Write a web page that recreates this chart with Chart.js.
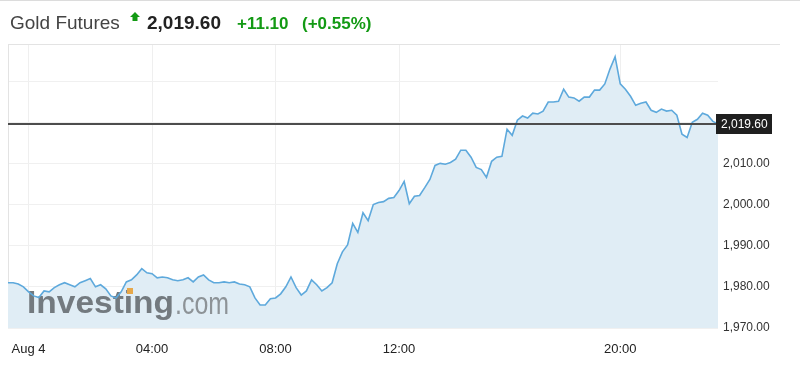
<!DOCTYPE html>
<html>
<head>
<meta charset="utf-8">
<script src="https://cdn.jsdelivr.net/npm/chart.js@4.4.1/dist/chart.umd.min.js"></script>
<style>
  html, body { margin: 0; padding: 0; background: #fff; }
  #wrap { position: relative; width: 800px; height: 365px; overflow: hidden; font-family: "Liberation Sans", Arial, sans-serif; }
  #c { position: absolute; left: 0; top: 0; }
  .hd { position: absolute; top: 13px; line-height: 19px; white-space: nowrap; }
  #topline { position: absolute; left: 0; top: 0; width: 800px; height: 1px; background: #dcdcdc; }
</style>
</head>
<body>
<div id="wrap">
  <canvas id="c" width="800" height="365"></canvas>
  <div id="topline"></div>
  <span class="hd" style="left:10px;font-size:19px;color:#444;">Gold Futures</span>
  <svg style="position:absolute;left:130px;top:12px;" width="10" height="11" viewBox="0 0 10 11">
    <polygon points="5,0 10,5 7.5,5 7.5,9 2.5,9 2.5,5 0,5" fill="#139a14"/>
  </svg>
  <span class="hd" style="left:147px;font-size:19px;font-weight:bold;color:#222;">2,019.60</span>
  <span class="hd" style="left:237px;top:14px;font-size:17px;font-weight:bold;color:#139a14;">+11.10</span>
  <span class="hd" style="left:302px;top:14px;font-size:17px;font-weight:bold;color:#139a14;">(+0.55%)</span>
</div>
<script>
// ---- data ----
const sessions = [[-40, 1010], [1070, 1390]]; // minutes relative to Aug 4 00:00 (trading sessions)
const stepMinutes = 10;
const tickTimes = ['00:00', '04:00', '08:00', '12:00', '20:00'];
const tickTexts = ['Aug 4', '04:00', '08:00', '12:00', '20:00'];
const yTicks = [1970, 1980, 1990, 2000, 2010, 2020, 2030];
const yLabelMax = 2010;
const lastPrice = 2019.60;
const prices = [
  1981.0,1981.0,1980.7,1980.0,1978.8,1977.8,1977.4,1979.0,1978.8,1979.8,
  1980.5,1981.0,1980.5,1980.0,1981.0,1981.5,1982.0,1980.0,1980.5,1979.5,
  1977.8,1977.3,1978.8,1981.2,1981.7,1982.9,1984.4,1983.4,1983.2,1982.2,
  1982.4,1982.2,1981.7,1981.5,1981.7,1982.2,1981.2,1982.4,1982.9,1981.7,
  1981.0,1981.0,1981.2,1981.0,1981.2,1980.7,1980.5,1980.0,1977.3,1975.6,
  1975.6,1977.1,1977.3,1978.3,1980.0,1982.4,1979.8,1978.0,1979.0,1981.7,
  1980.5,1979.0,1979.8,1981.0,1985.6,1988.5,1990.2,1995.4,1993.2,1998.0,
  1996.1,2000.0,2000.5,2000.7,2001.5,2001.7,2003.4,2005.6,2000.2,2002.0,
  2002.2,2004.1,2006.1,2009.5,2010.0,2009.8,2010.2,2011.0,2013.2,2013.2,
  2011.5,2009.0,2008.5,2006.6,2010.5,2011.5,2011.7,2018.3,2016.8,2020.5,
  2021.5,2021.0,2022.2,2022.0,2022.7,2024.9,2024.9,2025.1,2028.0,2026.1,
  2025.9,2025.1,2026.1,2026.1,2027.8,2027.8,2029.3,2032.9,2035.9,2029.3,
  2028.0,2026.3,2024.1,2024.6,2024.9,2022.9,2022.4,2023.2,2022.7,2022.9,
  2021.7,2017.1,2016.3,2020.0,2020.7,2022.2,2021.7,2020.2,2019.6
];

// ---- build categories ----
const times = [];
sessions.forEach(([a, b]) => {
  for (let m = a; m <= b; m += stepMinutes) {
    const mm = (m + 1440) % 1440;
    times.push(String(Math.floor(mm / 60)).padStart(2, '0') + ':' + String(mm % 60).padStart(2, '0'));
  }
});

const FONT = '"Liberation Sans", Arial, sans-serif';
const fmt = v => v.toLocaleString('en-US', { minimumFractionDigits: 2, maximumFractionDigits: 2 });

const decor = {
  id: 'decor',
  beforeDatasetsDraw(chart) {
    const { ctx, chartArea: a } = chart;
    ctx.save();
    ctx.strokeStyle = '#e3e3e3';
    ctx.lineWidth = 1;
    ctx.beginPath();
    ctx.moveTo(a.left + 0.5, a.top);
    ctx.lineTo(a.left + 0.5, a.bottom);
    ctx.moveTo(a.left, a.top + 0.5);
    ctx.lineTo(780, a.top + 0.5);
    ctx.stroke();
    ctx.restore();
  },
  afterDatasetDraw(chart, args) {
    if (args.index !== 1) return;
    const ctx = chart.ctx;
    ctx.save();
    // watermark
    ctx.fillStyle = '#737a7f';
    ctx.font = 'bold 31px ' + FONT;
    ctx.textBaseline = 'alphabetic';
    let w = ctx.measureText('Investing').width;
    ctx.save();
    ctx.translate(27, 313);
    ctx.scale(147 / w, 1);
    ctx.fillText('Investing', 0, 0);
    ctx.restore();
    ctx.fillStyle = '#e7a84a';
    ctx.fillRect(127, 288, 6, 6);
    ctx.fillStyle = '#8d9397';
    ctx.font = '31px ' + FONT;
    w = ctx.measureText('.com').width;
    ctx.save();
    ctx.translate(175, 314);
    ctx.scale(54 / w, 1);
    ctx.fillText('.com', 0, 0);
    ctx.restore();
    ctx.restore();
  },
  afterDatasetsDraw(chart) {
    const { ctx, chartArea: a, scales } = chart;
    const y = Math.round(scales.y.getPixelForValue(lastPrice));
    ctx.save();
    ctx.strokeStyle = '#4d4d4d';
    ctx.lineWidth = 2;
    ctx.beginPath();
    ctx.moveTo(a.left, y);
    ctx.lineTo(a.right, y);
    ctx.stroke();
    ctx.restore();
  },
  afterDraw(chart) {
    const { ctx, chartArea: a, scales } = chart;
    const y = Math.round(scales.y.getPixelForValue(lastPrice));
    ctx.save();
    ctx.fillStyle = '#1f1f1f';
    ctx.fillRect(a.right - 2, y - 10, 56, 20);
    ctx.fillStyle = '#ffffff';
    ctx.font = '12px ' + FONT;
    ctx.textBaseline = 'middle';
    ctx.textAlign = 'left';
    ctx.fillText(fmt(lastPrice), a.right + 3, y + 0.5);
    ctx.restore();
  }
};

new Chart(document.getElementById('c'), {
  type: 'line',
  data: {
    labels: times,
    datasets: [
      { data: prices, borderColor: '#5ea9dc', borderWidth: 1.6, pointRadius: 0, pointHoverRadius: 0, fill: false, tension: 0, order: 1 },
      { data: prices, borderWidth: 0, borderColor: 'rgba(0,0,0,0)', backgroundColor: '#e0edf5', pointRadius: 0, pointHoverRadius: 0, fill: 'start', tension: 0, order: 2 }
    ]
  },
  options: {
    responsive: false,
    animation: false,
    events: [],
    layout: { autoPadding: false, padding: { left: 8, top: 44, right: 0, bottom: 0 } },
    plugins: { legend: { display: false }, tooltip: { enabled: false }, title: { display: false } },
    scales: {
      x: {
        type: 'category',
        offset: false,
        afterFit: s => { s.height = 37; s.paddingLeft = 0; s.paddingRight = 0; },
        border: { display: false },
        grid: {
          drawTicks: false,
          color: ctx => (ctx.tick && tickTimes.includes(times[ctx.tick.value])) ? '#efefef' : 'rgba(0,0,0,0)'
        },
        ticks: {
          autoSkip: false,
          maxRotation: 0,
          minRotation: 0,
          padding: 14,
          color: '#222',
          font: { family: FONT, size: 13 },
          callback: (v, i) => {
            const k = tickTimes.indexOf(times[i]);
            return k >= 0 ? tickTexts[k] : '';
          }
        }
      },
      y: {
        position: 'right',
        min: 1970,
        max: 2039,
        afterFit: s => { s.width = 82; },
        afterBuildTicks: s => { s.ticks = yTicks.map(v => ({ value: v })); },
        border: { display: false },
        grid: { drawTicks: false, color: '#f0f0f0' },
        ticks: {
          padding: 5,
          color: '#333',
          font: { family: FONT, size: 12 },
          callback: v => (v <= yLabelMax ? fmt(v) : '')
        }
      }
    }
  },
  plugins: [decor]
});
</script>
</body>
</html>
